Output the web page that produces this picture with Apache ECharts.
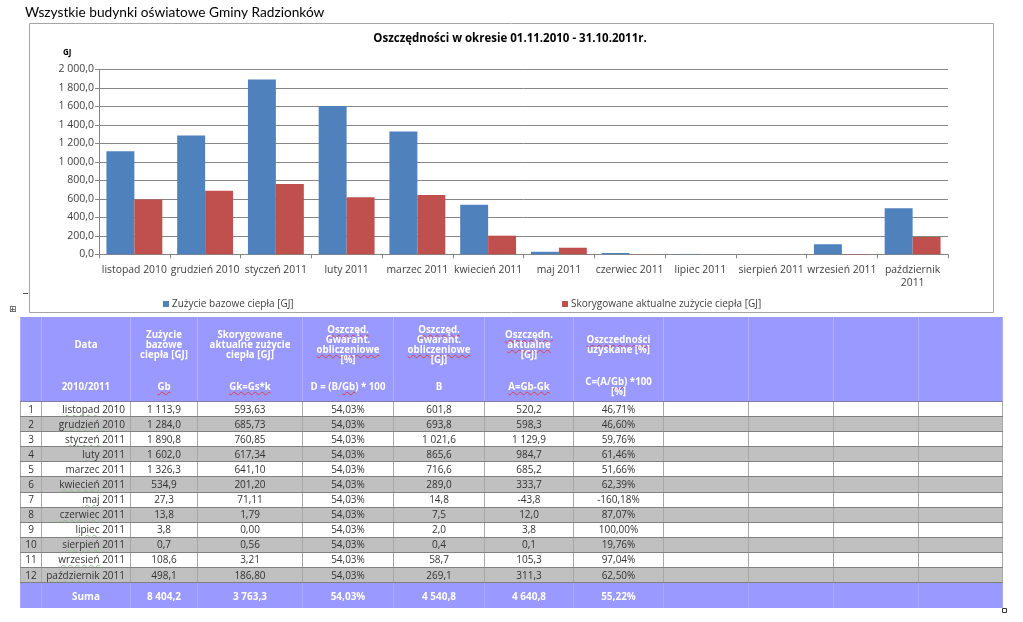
<!DOCTYPE html>
<html><head><meta charset="utf-8">
<script src="https://cdn.jsdelivr.net/npm/echarts/dist/echarts.min.js"></script>
<style>
html,body{margin:0;padding:0;background:#fff;width:1023px;height:622px;overflow:hidden;}
#chart{position:absolute;left:0;top:0;width:1023px;height:622px;}
#tbl{position:absolute;left:20px;top:317px;border-collapse:collapse;table-layout:fixed;width:982px;
 font-family:'Open Sans',sans-serif;font-size:10px;color:#333;}
#tbl td{padding:0;text-align:center;white-space:nowrap;overflow:hidden;border-left:1px solid #a8a8a8;border-right:1px solid #a8a8a8;}
#tbl tr.h td{background:#9999ff;color:#fff;font-weight:700;font-size:9.7px;line-height:10px;border-left:1px solid #b0b0ff;border-right:1px solid #b0b0ff;white-space:normal;}
#tbl tr.h1 td{height:56px;}
#tbl tr.h2 td{height:28px;border-bottom:1px solid #7f7f9f;}
#tbl tr.d td{height:14.1px;line-height:13px;border-bottom:1px solid #808080;}
#tbl tr.d.g td{background:#c0c0c0;}
#tbl tr.d td.m{text-align:right;padding-right:5px;}
#tbl tr.s td{height:25px;background:#9999ff;color:#fff;font-weight:700;border-left:1px solid #a8a8ff;border-right:1px solid #a8a8ff;}
.r{text-decoration:underline wavy #e04040;text-decoration-thickness:1px;text-underline-offset:1px;}
.gr{text-decoration:underline wavy #8fc08f;text-decoration-thickness:1px;text-underline-offset:1px;}
</style></head><body>
<div id="chart"></div>
<table id="tbl"></table>
<script>
// ---- data ----
const pageTitle = 'Wszystkie budynki oświatowe Gminy Radzionków';
const chartTitle = 'Oszczędności w okresie 01.11.2010 - 31.10.2011r.';
const categories = ['listopad 2010','grudzień 2010','styczeń 2011','luty 2011','marzec 2011','kwiecień 2011','maj 2011','czerwiec 2011','lipiec 2011','sierpień 2011','wrzesień 2011','październik 2011'];
const seriesNames = ['Zużycie bazowe ciepła [GJ]','Skorygowane aktualne zużycie ciepła [GJ]'];
const baseUse = [1113.9,1284.0,1890.8,1602.0,1326.3,534.9,27.3,13.8,3.8,0.7,108.6,498.1];
const correctedUse = [593.63,685.73,760.85,617.34,641.10,201.20,71.11,1.79,0.00,0.56,3.21,186.80];
const guaranteedPct = [54.03,54.03,54.03,54.03,54.03,54.03,54.03,54.03,54.03,54.03,54.03,54.03];
const guaranteedGJ = [601.8,693.8,1021.6,865.6,716.6,289.0,14.8,7.5,2.0,0.4,58.7,269.1];
const actualSavings = [520.2,598.3,1129.9,984.7,685.2,333.7,-43.8,12.0,3.8,0.1,105.3,311.3];
const achievedPct = [46.71,46.60,59.76,61.46,51.66,62.39,-160.18,87.07,100.00,19.76,97.04,62.50];
const totals = [8404.2,3763.3,54.03,4540.8,4640.8,55.22];
const yTicks = {min:0,max:2000,interval:200};

function fmt(v,d){
  let s=Math.abs(v).toFixed(d); let p=s.split('.');
  let i=p[0].replace(/\B(?=(\d{3})+(?!\d))/g,' ');
  return (v<0?'-':'')+i+(p[1]!==undefined?','+p[1]:'');
}

// ---- table ----
const headRow1 = ['', 'Data', 'Zużycie<br>bazowe<br>ciepła [GJ]', 'Skorygowane<br>aktualne zużycie<br>ciepła [GJ]',
 '<span class="r">Oszczęd.</span><br>Gwarant.<br><span class="r">obliczeniowe</span><br>[%]',
 '<span class="r">Oszczęd.</span><br>Gwarant.<br><span class="r">obliczeniowe</span><br>[GJ]',
 '<span class="r">Oszczędn.</span><br><span class="r">aktualne</span><br>[GJ]',
 '<span class="r">Oszczedności</span><br>uzyskane [%]','','','',''];
const headRow2 = ['', '2010/2011', '<span class="r">Gb</span>', '<span class="r">Gk=Gs*k</span>',
 'D = (B/<span class="r">Gb</span>) * 100', 'B', '<span class="r">A=Gb-Gk</span>', 'C=(A/<span class="r">Gb</span>) *100<br>[%]','','','',''];
const colW = [21,89,67,105,91,91,89,90,85,85,85,84];
let html = '<colgroup>'+colW.map(w=>'<col style="width:'+w+'px">').join('')+'</colgroup>';
html += '<tr class="h h1">'+headRow1.map(t=>'<td>'+t+'</td>').join('')+'</tr>';
html += '<tr class="h h2">'+headRow2.map(t=>'<td>'+t+'</td>').join('')+'</tr>';
categories.forEach((c,i)=>{
  const parts=c.split(' ');
  const month = parts[0]==='marzec' ? parts[0] : '<span class="gr">'+parts[0]+'</span>';
  const cells=[i+1, month+' '+parts[1], fmt(baseUse[i],1), fmt(correctedUse[i],2), fmt(guaranteedPct[i],2)+'%',
    fmt(guaranteedGJ[i],1), fmt(actualSavings[i],1), fmt(achievedPct[i],2)+'%','','','',''];
  html += '<tr class="d'+(i%2?' g':'')+'">'+cells.map((t,j)=>'<td'+(j===1?' class="m"':'')+'>'+t+'</td>').join('')+'</tr>';
});
const sumCells=['','Suma',fmt(totals[0],1),fmt(totals[1],1),fmt(totals[2],2)+'%',fmt(totals[3],1),fmt(totals[4],1),fmt(totals[5],2)+'%','','','',''];
html += '<tr class="s">'+sumCells.map(t=>'<td>'+t+'</td>').join('')+'</tr>';
document.getElementById('tbl').innerHTML = html;

// ---- chart ----
const chart = echarts.init(document.getElementById('chart'));
chart.setOption({
  animation:false,
  textStyle:{fontFamily:'Open Sans'},
  grid:{left:99,top:69.3,width:849,height:185},
  legend:[
    {data:[seriesNames[0]],left:163,top:299,padding:0,icon:'rect',itemWidth:6,itemHeight:6,textStyle:{fontFamily:'Open Sans',fontSize:10,color:'#404040',padding:[0,0,0,-2]}},
    {data:[seriesNames[1]],left:562,top:299,padding:0,icon:'rect',itemWidth:6,itemHeight:6,textStyle:{fontFamily:'Open Sans',fontSize:10,color:'#404040',padding:[0,0,0,-2]}}
  ],
  xAxis:{type:'category',data:categories,
    axisLine:{lineStyle:{color:'#868686'}},axisTick:{show:true,length:4,lineStyle:{color:'#868686'}},
    axisLabel:{margin:9,interval:0,lineHeight:13,fontFamily:'Open Sans',fontSize:10.4,color:'#404040',
      formatter:v=>v.length>14?v.replace(' ','\n'):v}},
  yAxis:{type:'value',min:yTicks.min,max:yTicks.max,interval:yTicks.interval,
    axisLine:{show:true,lineStyle:{color:'#868686'}},axisTick:{show:true,length:4,lineStyle:{color:'#868686'}},
    splitLine:{lineStyle:{color:'#868686'}},
    axisLabel:{margin:5,fontFamily:'Open Sans',fontSize:10.5,color:'#404040',formatter:v=>fmt(v,1)}},
  series:[
    {name:seriesNames[0],type:'bar',data:baseUse,itemStyle:{color:'#4f81bd'},barGap:'0%',barCategoryGap:'21%'},
    {name:seriesNames[1],type:'bar',data:correctedUse,itemStyle:{color:'#c0504d'},barGap:'0%',barCategoryGap:'21%'}
  ],
  graphic:[
    {type:'rect',silent:true,z:-10,shape:{x:29.5,y:23.5,width:964,height:289},style:{fill:'#fff',stroke:'#a6a6a6',lineWidth:1}},
    {type:'text',x:25,y:13,style:{text:pageTitle,fontFamily:'Lato',fontSize:13.7,fill:'#000',verticalAlign:'middle'}},
    {type:'text',x:510,y:39,style:{text:chartTitle,fontFamily:'Open Sans',fontSize:11.5,fontWeight:'bold',fill:'#000',align:'center',verticalAlign:'middle'}},
    {type:'text',x:63,y:52.5,style:{text:'GJ',fontFamily:'Open Sans',fontSize:8,fontWeight:'bold',fill:'#000',verticalAlign:'middle'}},
    {type:'line',shape:{x1:23,y1:293.5,x2:28,y2:293.5},style:{stroke:'#555',lineWidth:1}},
    {type:'text',x:9,y:310,style:{text:'⊞',fontFamily:'DejaVu Sans',fontSize:9,fill:'#444',verticalAlign:'middle'}},
    {type:'rect',shape:{x:1001,y:318,width:2,height:12},style:{fill:'#000'}},
    {type:'rect',shape:{x:1002.5,y:608.5,width:4,height:4},style:{fill:'#fff',stroke:'#333',lineWidth:1}}
  ]
});
</script>
</body></html>
